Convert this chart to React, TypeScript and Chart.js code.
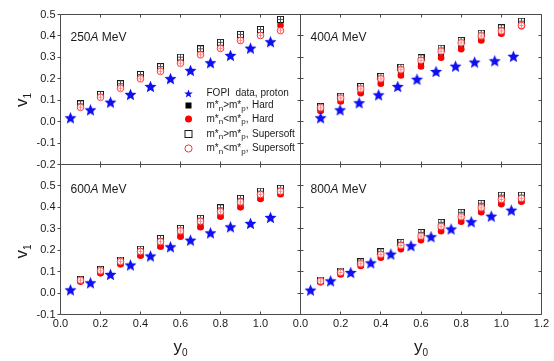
import React, { useEffect, useRef } from 'react';
import { Chart, registerables } from 'chart.js';

Chart.register(...registerables);

const W = 554;
const H = 361;
const FONT = "'Liberation Sans', Arial, Helvetica, sans-serif";
const FRAME = '#4a4a4a';
const TEXT = '#1a1a1a';
const BLUE = '#0f0ff2';
const RED = '#ff0000';
const LRED = '#ff3030';
const TICK = 3;

// ---------- data ----------
const modelX = [0.1, 0.2, 0.3, 0.4, 0.5, 0.6, 0.7, 0.8, 0.9, 1.0, 1.1];

const fopiX250 = [0.05, 0.15, 0.25, 0.35, 0.45, 0.55, 0.65, 0.75, 0.85, 0.95, 1.05];
const fopi250 = [0.018, 0.055, 0.091, 0.127, 0.164, 0.201, 0.239, 0.275, 0.309, 0.343, 0.373];
const hardNP250 = [0.083, 0.127, 0.177, 0.220, 0.257, 0.301, 0.340, 0.370, 0.407, 0.430, 0.472];
const hardPN250 = [0.070, 0.118, 0.160, 0.204, 0.239, 0.277, 0.316, 0.345, 0.383, 0.405, 0.449];
const softNP250 = [0.083, 0.127, 0.177, 0.220, 0.257, 0.301, 0.340, 0.370, 0.407, 0.430, 0.477];
const softPN250 = [0.067, 0.114, 0.156, 0.200, 0.235, 0.273, 0.312, 0.342, 0.379, 0.402, 0.425];

const fopiX400 = [0.1, 0.197, 0.292, 0.389, 0.484, 0.58, 0.675, 0.772, 0.867, 0.967, 1.06];
const fopi400 = [0.018, 0.055, 0.088, 0.125, 0.164, 0.198, 0.234, 0.259, 0.278, 0.284, 0.305];
const hardNP400 = [0.055, 0.099, 0.138, 0.182, 0.220, 0.262, 0.303, 0.343, 0.384, 0.415, 0.452];
const hardPN400 = [0.050, 0.094, 0.133, 0.177, 0.215, 0.257, 0.298, 0.338, 0.379, 0.410, 0.445];
const softNP400 = [0.071, 0.119, 0.164, 0.211, 0.254, 0.298, 0.343, 0.379, 0.413, 0.438, 0.469];
const softPN400 = [0.065, 0.110, 0.153, 0.200, 0.242, 0.286, 0.329, 0.368, 0.400, 0.423, 0.449];

const fopiX600 = [0.05, 0.15, 0.25, 0.35, 0.45, 0.55, 0.65, 0.75, 0.85, 0.95, 1.05];
const fopi600 = [0.015, 0.048, 0.087, 0.131, 0.173, 0.216, 0.247, 0.281, 0.309, 0.325, 0.353];
const hardNP600 = [0.058, 0.097, 0.139, 0.179, 0.221, 0.268, 0.312, 0.361, 0.405, 0.444, 0.466];
const hardPN600 = [0.053, 0.092, 0.134, 0.174, 0.216, 0.263, 0.307, 0.356, 0.400, 0.439, 0.461];
const softNP600 = [0.064, 0.111, 0.154, 0.205, 0.255, 0.302, 0.349, 0.398, 0.442, 0.476, 0.489];
const softPN600 = [0.060, 0.104, 0.147, 0.194, 0.240, 0.290, 0.335, 0.380, 0.425, 0.460, 0.475];

const fopiX800 = [0.05, 0.15, 0.25, 0.35, 0.45, 0.55, 0.65, 0.75, 0.85, 0.95, 1.05];
const fopi800 = [0.014, 0.057, 0.096, 0.141, 0.182, 0.221, 0.263, 0.299, 0.333, 0.359, 0.387];
const hardNP800 = [0.054, 0.091, 0.131, 0.170, 0.210, 0.252, 0.294, 0.338, 0.382, 0.420, 0.431];
const hardPN800 = [0.050, 0.087, 0.126, 0.165, 0.205, 0.247, 0.289, 0.333, 0.377, 0.415, 0.426];
const softNP800 = [0.061, 0.103, 0.146, 0.193, 0.237, 0.283, 0.330, 0.377, 0.419, 0.457, 0.457];
const softPN800 = [0.056, 0.096, 0.137, 0.180, 0.222, 0.266, 0.311, 0.356, 0.398, 0.437, 0.442];

const xTickMarks = [0, 0.2, 0.4, 0.6, 0.8, 1.0, 1.2];
const xLabelsLeft = [0, 0.2, 0.4, 0.6, 0.8, 1.0];
const xLabelsRight = [0, 0.2, 0.4, 0.6, 0.8, 1.0, 1.2];
const yTicksTop = [-0.2, -0.1, 0, 0.1, 0.2, 0.3, 0.4, 0.5];
const yTicksBottom = [-0.1, 0, 0.1, 0.2, 0.3, 0.4, 0.5];

const energies = ['250', '400', '600', '800'];
const legendLabels = ['FOPI  data, proton', 'Hard', 'Hard', 'Supersoft', 'Supersoft'];

type Panel = {
  key: string;
  row: number;
  col: number;
  yMin: number;
  yMax: number;
  fopiX: number[];
  fopi: number[];
  hardNP: number[];
  hardPN: number[];
  softNP: number[];
  softPN: number[];
  area: { left: number; right: number; top: number; bottom: number };
  legend: boolean;
};

const PANELS: Panel[] = [
  { key: energies[0], row: 0, col: 0, yMin: -0.2, yMax: 0.5, fopiX: fopiX250, fopi: fopi250, hardNP: hardNP250, hardPN: hardPN250, softNP: softNP250, softPN: softPN250, area: { left: 60.5, right: 300.5, top: 14.5, bottom: 164.5 }, legend: true },
  { key: energies[1], row: 0, col: 1, yMin: -0.2, yMax: 0.5, fopiX: fopiX400, fopi: fopi400, hardNP: hardNP400, hardPN: hardPN400, softNP: softNP400, softPN: softPN400, area: { left: 300.5, right: 541.5, top: 14.5, bottom: 164.5 }, legend: false },
  { key: energies[2], row: 1, col: 0, yMin: -0.1, yMax: 0.6, fopiX: fopiX600, fopi: fopi600, hardNP: hardNP600, hardPN: hardPN600, softNP: softNP600, softPN: softPN600, area: { left: 60.5, right: 300.5, top: 164.5, bottom: 314.5 }, legend: false },
  { key: energies[3], row: 1, col: 1, yMin: -0.1, yMax: 0.6, fopiX: fopiX800, fopi: fopi800, hardNP: hardNP800, hardPN: hardPN800, softNP: softNP800, softPN: softPN800, area: { left: 300.5, right: 541.5, top: 164.5, bottom: 314.5 }, legend: false },
];

// ---------- marker images ----------
function makeStar(R: number, ratio: number, color: string): HTMLCanvasElement {
  const size = Math.ceil(2 * R) + 2;
  const c = document.createElement('canvas');
  c.width = size;
  c.height = size;
  const ctx = c.getContext('2d')!;
  const cx = size / 2;
  const cy = size / 2 + R * 0.09;
  ctx.beginPath();
  for (let i = 0; i < 10; i++) {
    const r = i % 2 === 0 ? R : R * ratio;
    const a = -Math.PI / 2 + (i * Math.PI) / 5;
    const x = cx + r * Math.cos(a);
    const y = cy + r * Math.sin(a);
    if (i === 0) ctx.moveTo(x, y);
    else ctx.lineTo(x, y);
  }
  ctx.closePath();
  ctx.fillStyle = color;
  ctx.fill();
  return c;
}

function makeOpenSquare(): HTMLCanvasElement {
  const c = document.createElement('canvas');
  c.width = 7;
  c.height = 7;
  const ctx = c.getContext('2d')!;
  ctx.fillStyle = '#fff';
  ctx.fillRect(0.5, 0.5, 6, 6);
  ctx.strokeStyle = '#1a1a1a';
  ctx.lineWidth = 1;
  ctx.strokeRect(0.5, 0.5, 6, 6);
  ctx.strokeStyle = '#555';
  ctx.beginPath();
  ctx.moveTo(3.5, 0.5);
  ctx.lineTo(3.5, 6.5);
  ctx.moveTo(0.5, 3.5);
  ctx.lineTo(6.5, 3.5);
  ctx.stroke();
  return c;
}

function makeOpenCircle(): HTMLCanvasElement {
  const c = document.createElement('canvas');
  c.width = 9;
  c.height = 9;
  const ctx = c.getContext('2d')!;
  ctx.beginPath();
  ctx.arc(4.5, 4.5, 3.3, 0, Math.PI * 2);
  ctx.fillStyle = '#fff';
  ctx.fill();
  ctx.strokeStyle = LRED;
  ctx.lineWidth = 1;
  ctx.stroke();
  ctx.strokeStyle = '#ff8a8a';
  ctx.beginPath();
  ctx.moveTo(4.5, 2);
  ctx.lineTo(4.5, 7);
  ctx.moveTo(2.5, 4.5);
  ctx.lineTo(6.5, 4.5);
  ctx.stroke();
  return c;
}

type Part = { t: string; size: number; dy?: number; italic?: boolean };

function drawParts(ctx: CanvasRenderingContext2D, parts: Part[], x: number, y: number, center = false) {
  const widths = parts.map((p) => {
    ctx.font = `${p.italic ? 'italic ' : ''}${p.size}px ${FONT}`;
    return ctx.measureText(p.t).width;
  });
  const total = widths.reduce((a, b) => a + b, 0);
  let cx = center ? x - total / 2 : x;
  parts.forEach((p, i) => {
    ctx.font = `${p.italic ? 'italic ' : ''}${p.size}px ${FONT}`;
    ctx.fillText(p.t, cx, y + (p.dy || 0));
    cx += widths[i];
  });
}

function panelPlugin(p: Panel, img: { starSmall: HTMLCanvasElement }) {
  return {
    id: 'panelDeco' + p.key,
    afterDraw(chart: any) {
      const ctx: CanvasRenderingContext2D = chart.ctx;
      const { left, right, top, bottom } = chart.chartArea;
      const xs = chart.scales.x;
      const ys = chart.scales.y;
      const snap = (v: number) => Math.floor(v) + 0.5;
      const L = snap(left), R = snap(right), T = snap(top), B = snap(bottom);
      ctx.save();
      ctx.strokeStyle = FRAME;
      ctx.lineWidth = 1;
      ctx.beginPath();
      ctx.rect(L, T, R - L, B - T);
      for (const v of xTickMarks) {
        const px = snap(xs.getPixelForValue(v));
        ctx.moveTo(px, B);
        ctx.lineTo(px, B - TICK);
        ctx.moveTo(px, T);
        ctx.lineTo(px, T + TICK);
      }
      const yT = p.row === 0 ? yTicksTop : yTicksBottom;
      for (const v of yT) {
        const py = snap(ys.getPixelForValue(v));
        if (p.col === 0) {
          ctx.moveTo(L - TICK, py);
          ctx.lineTo(L, py);
        } else {
          ctx.moveTo(L, py);
          ctx.lineTo(L + TICK, py);
        }
        ctx.moveTo(R, py);
        ctx.lineTo(R - TICK, py);
      }
      ctx.stroke();

      // panel label
      ctx.fillStyle = TEXT;
      ctx.textAlign = 'left';
      ctx.textBaseline = 'alphabetic';
      const ly = p.row === 0 ? 41 : 192.5;
      drawParts(ctx, [
        { t: p.key, size: 12 },
        { t: 'A', size: 12, italic: true },
        { t: ' MeV', size: 12 },
      ], left + 10, ly);

      // axis titles
      if (p.col === 0) {
        ctx.save();
        ctx.translate(27, p.row === 0 ? 100 : 251.5);
        ctx.rotate(-Math.PI / 2);
        drawParts(ctx, [
          { t: 'v', size: 17 },
          { t: '1', size: 10, dy: 4 },
        ], 0, 0, true);
        ctx.restore();
      }
      if (p.row === 1) {
        drawParts(ctx, [
          { t: 'y', size: 17 },
          { t: '0', size: 10, dy: 4 },
        ], (left + right) / 2, 351.5, true);
      }

      // legend
      if (p.legend) {
        const sx = 188.5;
        const tx = 206.5;
        const tx2 = 252;
        const rows = [93.5, 105.5, 119, 134, 148.5];
        ctx.drawImage(img.starSmall, sx - img.starSmall.width / 2, rows[0] - img.starSmall.height / 2);
        ctx.fillStyle = '#000';
        ctx.fillRect(sx - 3, rows[1] - 3, 6, 6);
        ctx.fillStyle = RED;
        ctx.beginPath();
        ctx.arc(sx, rows[2], 3.5, 0, Math.PI * 2);
        ctx.fill();
        ctx.strokeStyle = '#1a1a1a';
        ctx.strokeRect(sx - 3.5 + 0.0, rows[3] - 3.5, 7, 7);
        ctx.strokeStyle = LRED;
        ctx.beginPath();
        ctx.arc(sx, rows[4], 3.6, 0, Math.PI * 2);
        ctx.stroke();

        ctx.fillStyle = TEXT;
        ctx.textBaseline = 'middle';
        drawParts(ctx, [{ t: legendLabels[0], size: 10 }], tx, rows[0]);
        const gt: Part[] = [
          { t: 'm*', size: 10 }, { t: 'n', size: 8, dy: 3 }, { t: '>m*', size: 10 }, { t: 'p', size: 8, dy: 3 }, { t: ',', size: 10 },
        ];
        const lt: Part[] = [
          { t: 'm*', size: 10 }, { t: 'n', size: 8, dy: 3 }, { t: '<m*', size: 10 }, { t: 'p', size: 8, dy: 3 }, { t: ',', size: 10 },
        ];
        for (let i = 1; i < 5; i++) {
          drawParts(ctx, i % 2 === 1 ? gt : lt, tx, rows[i]);
          drawParts(ctx, [{ t: legendLabels[i], size: 10 }], tx2, rows[i]);
        }
      }
      ctx.restore();
    },
  };
}

function buildConfig(p: Panel, img: any): any {
  const isLeft = p.col === 0;
  const isBottom = p.row === 1;
  const yAxisW = 50;
  const xAxisH = 25;
  const tickFont = { family: FONT, size: 11 };
  const pts = (xs: number[], ys: number[]) => xs.map((x, i) => ({ x, y: ys[i] }));
  return {
    type: 'scatter',
    data: {
      datasets: [
        { label: 'FOPI data, proton', data: pts(p.fopiX, p.fopi), pointStyle: img.star, pointRadius: 6, backgroundColor: BLUE, borderColor: BLUE },
        { label: 'n<p Supersoft', data: pts(modelX, p.softPN), pointStyle: img.openCircle, pointRadius: 4, backgroundColor: '#fff', borderColor: LRED },
        { label: 'n>p Supersoft', data: pts(modelX, p.softNP), pointStyle: img.openSquare, pointRadius: 4, backgroundColor: '#fff', borderColor: '#000' },
        { label: 'n<p Hard', data: pts(modelX, p.hardPN), pointStyle: 'circle', pointRadius: 3.3, backgroundColor: RED, borderColor: RED, borderWidth: 0 },
        { label: 'n>p Hard', data: pts(modelX, p.hardNP), pointStyle: 'rect', pointRadius: 4.2, backgroundColor: '#000', borderColor: '#000', borderWidth: 0 },
      ],
    },
    options: {
      animation: false,
      responsive: false,
      events: [],
      layout: {
        padding: {
          left: isLeft ? p.area.left - yAxisW : p.area.left,
          right: W - p.area.right,
          top: p.area.top,
          bottom: isBottom ? H - p.area.bottom - xAxisH : H - p.area.bottom,
        },
      },
      scales: {
        x: {
          type: 'linear',
          min: 0,
          max: 1.2,
          display: isBottom,
          afterBuildTicks: (s: any) => {
            s.ticks = (isLeft ? xLabelsLeft : xLabelsRight).map((v) => ({ value: v }));
          },
          afterFit: (s: any) => {
            s.height = isBottom ? xAxisH : 0;
          },
          grid: { display: false, drawTicks: false },
          border: { display: false },
          ticks: { padding: 3, font: tickFont, color: TEXT, maxRotation: 0, autoSkip: false, callback: (v: any) => Number(v).toFixed(1) },
        },
        y: {
          type: 'linear',
          min: p.yMin,
          max: p.yMax,
          display: isLeft,
          afterBuildTicks: (s: any) => {
            s.ticks = (p.row === 0 ? yTicksTop : yTicksBottom).map((v) => ({ value: v }));
          },
          afterFit: (s: any) => {
            s.width = isLeft ? yAxisW : 0;
          },
          grid: { display: false, drawTicks: false },
          border: { display: false },
          ticks: { padding: 5, font: tickFont, color: TEXT, autoSkip: false, callback: (v: any) => Number(v).toFixed(1) },
        },
      },
      plugins: { legend: { display: false }, tooltip: { enabled: false } },
    },
    plugins: [panelPlugin(p, img)],
  };
}

export default function App() {
  const r0 = useRef<HTMLCanvasElement>(null);
  const r1 = useRef<HTMLCanvasElement>(null);
  const r2 = useRef<HTMLCanvasElement>(null);
  const r3 = useRef<HTMLCanvasElement>(null);
  const refs = [r0, r1, r2, r3];

  useEffect(() => {
    const img = {
      star: makeStar(6.3, 0.45, BLUE),
      starSmall: makeStar(4.5, 0.42, BLUE),
      openSquare: makeOpenSquare(),
      openCircle: makeOpenCircle(),
    };
    const charts = PANELS.map((p, i) => new Chart(refs[i].current!, buildConfig(p, img)));
    return () => charts.forEach((c) => c.destroy());
  }, []);

  return (
    <div style={{ position: 'fixed', left: 0, top: 0, width: W, height: H, background: '#fff' }}>
      {PANELS.map((p, i) => (
        <canvas
          key={p.key}
          ref={refs[i]}
          width={W}
          height={H}
          style={{ position: 'absolute', left: 0, top: 0, width: W, height: H }}
        />
      ))}
    </div>
  );
}
